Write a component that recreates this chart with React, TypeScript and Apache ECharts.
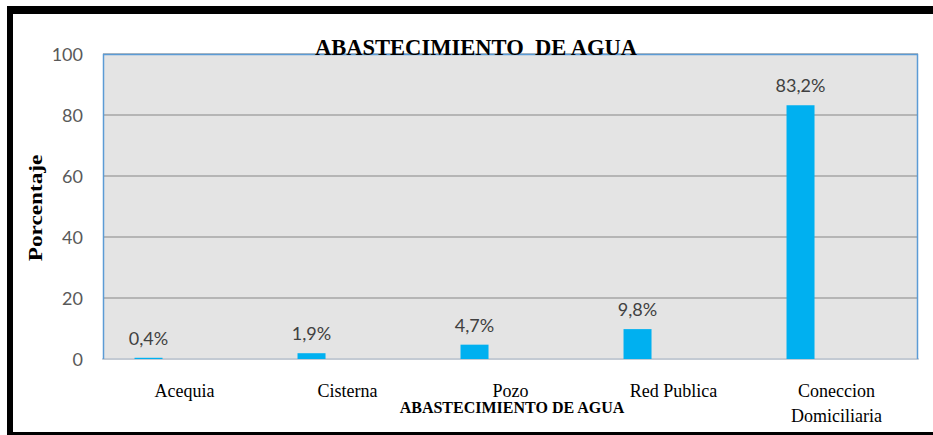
import React, { useEffect, useRef } from "react";
import * as echarts from "echarts";

const categories = ["Acequia", "Cisterna", "Pozo", "Red Publica", "Coneccion\nDomiciliaria"];
const values = [0.4, 1.9, 4.7, 9.8, 83.2];
const emptySeries = [null, null, null, null, null];
const yTicks = { min: 0, max: 100, interval: 20 };
const titleText = "ABASTECIMIENTO  DE AGUA";
const xName = "ABASTECIMIENTO DE AGUA";
const yName = "Porcentaje";

const W = 933;
const H = 435;
const G = { left: 103, top: 54, right: 15, bottom: 76 };
const SERIF = "'Liberation Serif', 'Times New Roman', serif";
const SANS = "Lato, 'Open Sans', sans-serif";

export default function App() {
  const ref = useRef<HTMLDivElement>(null);
  useEffect(() => {
    if (!ref.current) return;
    const chart = echarts.init(ref.current, undefined, { renderer: "svg" });
    const gx0 = G.left;
    const gx1 = W - G.right;
    const gy0 = G.top;
    const gy1 = H - G.bottom;
    chart.setOption({
      animation: false,
      backgroundColor: "#ffffff",
      grid: {
        left: G.left,
        top: G.top,
        right: G.right,
        bottom: G.bottom,
        show: true,
        backgroundColor: "#e4e4e4",
        borderWidth: 0,
      },
      xAxis: {
        type: "category",
        data: categories,
        axisTick: { show: false },
        axisLine: { show: true, lineStyle: { color: "#c3cad3", width: 2 } },
        axisLabel: {
          color: "#000000",
          fontFamily: SERIF,
          fontSize: 18,
          lineHeight: 25,
          margin: 19,
          interval: 0,
        },
      },
      yAxis: {
        type: "value",
        min: yTicks.min,
        max: yTicks.max,
        interval: yTicks.interval,
        axisLine: { show: false },
        axisTick: { show: false },
        axisLabel: {
          color: "#595959",
          fontFamily: SANS,
          fontSize: 18,
          margin: 20,
        },
        splitLine: { show: true, lineStyle: { color: "#a6a6a6", width: 1.5 } },
      },
      series: [
        {
          type: "bar",
          data: values,
          barWidth: 28,
          barGap: "157%",
          itemStyle: { color: "#00b0f0" },
          label: {
            show: true,
            position: "top",
            distance: 11,
            color: "#404040",
            fontFamily: SANS,
            fontSize: 18,
            formatter: (p: any) => p.value.toFixed(1).replace(".", ",") + "%",
          },
        },
        {
          type: "bar",
          data: emptySeries,
          barWidth: 28,
          itemStyle: { color: "#00b0f0" },
        },
      ],
      graphic: [
        // outer frame
        { type: "rect", z: 50, shape: { x: 7, y: 6, width: W - 7, height: 8 }, style: { fill: "#000" } },
        { type: "rect", z: 50, shape: { x: 7, y: 6, width: 6, height: H - 6 }, style: { fill: "#000" } },
        { type: "rect", z: 50, shape: { x: 7, y: H - 3, width: W - 7, height: 3 }, style: { fill: "#000" } },
        // plot border (left, top, right)
        {
          type: "polyline",
          z: 60,
          shape: { points: [[gx0 + 0.5, gy1], [gx0 + 0.5, gy0 + 0.5], [gx1 - 0.5, gy0 + 0.5], [gx1 - 0.5, gy1]] },
          style: { stroke: "#5b9bd5", lineWidth: 1.5, fill: null },
        },
        {
          type: "text",
          z: 70,
          x: 476,
          y: 47,
          scaleX: 0.94,
          style: {
            text: titleText,
            fill: "#000",
            font: `bold 24px ${SERIF}`,
            textAlign: "center",
            textVerticalAlign: "middle",
          },
        },
        {
          type: "text",
          z: 70,
          x: 512,
          y: 407,
          style: {
            text: xName,
            fill: "#000",
            font: `bold 16px ${SERIF}`,
            textAlign: "center",
            textVerticalAlign: "middle",
          },
        },
        {
          type: "text",
          z: 70,
          x: 36,
          y: 208,
          rotation: Math.PI / 2,
          scaleX: 1.29,
          style: {
            text: yName,
            fill: "#000",
            font: `bold 18px ${SERIF}`,
            textAlign: "center",
            textVerticalAlign: "middle",
          },
        },
      ],
    });
    return () => chart.dispose();
  }, []);
  return (
    <div
      ref={ref}
      style={{ position: "fixed", left: 0, top: 0, width: W, height: H }}
    />
  );
}
